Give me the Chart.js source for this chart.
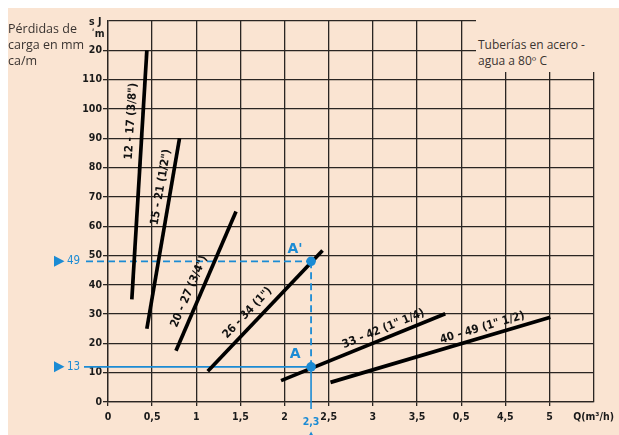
<!DOCTYPE html>
<html>
<head>
<meta charset="utf-8">
<script src="https://cdn.jsdelivr.net/npm/chart.js@4.4.1/dist/chart.umd.min.js"></script>
<style>
  html, body { margin: 0; padding: 0; background: #fff; }
  #wrap { position: relative; width: 619px; height: 435px; overflow: hidden; }
  #panel { position: absolute; left: 8px; top: 8px; right: 0; bottom: 0; background: #fae4d2; }
  #chart { position: absolute; left: 0; top: 0; }
  .note { position: absolute; font-family: "Open Sans", sans-serif; font-size: 12.5px; line-height: 16px; color: #3a3431; white-space: nowrap; }
  #yTitle { left: 8px; top: 21px; }
  #legendNote { left: 476px; top: 20px; width: 126px; height: 52px; padding: 17px 0 0 2px; box-sizing: border-box; background: #fae4d2; font-size: 12px; }
</style>
</head>
<body>
<div id="wrap">
  <div id="panel"></div>
  <canvas id="chart" width="619" height="435"></canvas>
  <div class="note" id="yTitle">Pérdidas de<br>carga en mm<br>ca/m</div>
  <div class="note" id="legendNote">Tuberías en acero -<br>agua a 80º C</div>
</div>
<script>
// ---- data ----
const flowTicks = [0, 0.5, 1, 1.5, 2, 2.5, 3, 3.5, 4, 4.5, 5, 5.5];
const flowTickLabels = ['0', '0,5', '1', '1,5', '2', '2,5', '3', '3,5', '0,5', '4,5', '5', 'Q(m³/h)'];
const lossTicks = [0, 10, 20, 30, 40, 50, 60, 70, 80, 90, 100, 110, 120, 130];
const lossTickLabels = ['0', '10', '20', '30', '40', '50', '60', '70', '80', '90', '100', '110', '20', ''];
const lossUnitLines = ['s J', 'ʹm'];

const pipeNames = ['12 - 17 (3/8")', '15 - 21 (1/2")', '20 - 27 (3/4")', '26 - 34 (1")', '33 - 42 (1" 1/4)', '40 - 49 (1" 1/2)'];
const pipeFlowStart = [0.27, 0.44, 0.77, 1.13, 1.96, 2.52];
const pipeLossStart = [35, 25, 17.5, 10.5, 7.3, 6.7];
const pipeFlowEnd = [0.44, 0.81, 1.45, 2.43, 3.82, 5.01];
const pipeLossEnd = [120, 90, 65, 51.7, 30.1, 28.9];
// where each pipe name sits (data units)
const nameFlow = [0.262, 0.60, 0.92, 1.58, 3.12, 4.24];
const nameLoss = [95.8, 73.3, 37.7, 30.4, 24.9, 25.3];

const markNames = ['A', "A'"];
const markFlow = [2.3, 2.3];
const markLoss = [12, 48];
const markLossLabels = ['13', '49'];
const markFlowLabel = '2,3';

const BLUE = '#1b8bd4';
const GRID = '#2a2522';
const tickFont = { family: '"DejaVu Sans Condensed", "DejaVu Sans", sans-serif', size: 10.5, weight: 'bold' };

// ---- plugins ----
const guides = {
  id: 'guides',
  beforeDatasetsDraw(chart) {
    const { ctx, scales: { x, y } } = chart;
    const ax = x.getPixelForValue(markFlow[0]);
    const yA = y.getPixelForValue(markLoss[0]);
    const yB = y.getPixelForValue(markLoss[1]);
    const seg = (x1, y1, x2, y2) => { ctx.beginPath(); ctx.moveTo(x1, y1); ctx.lineTo(x2, y2); ctx.stroke(); };
    ctx.save();
    ctx.strokeStyle = BLUE;
    ctx.lineWidth = 1.8;
    ctx.setLineDash([7, 4]);
    seg(x.left - 22, yB, ax, yB);
    seg(ax, yB, ax, yA);
    ctx.setLineDash([]);
    ctx.lineWidth = 1.6;
    seg(x.left - 24, yA, ax, yA);
    seg(ax, yA, ax, y.bottom + 7);
    ctx.restore();
  },
  afterDatasetsDraw(chart) {
    const { ctx, scales: { x, y } } = chart;
    const ax = x.getPixelForValue(markFlow[0]);
    ctx.save();
    ctx.fillStyle = BLUE;
    // left markers  ▶ 13 / ▶ 49
    markLoss.forEach((v, i) => {
      const py = y.getPixelForValue(v);
      ctx.beginPath();
      ctx.moveTo(x.left - 54, py - 5.5);
      ctx.lineTo(x.left - 43.5, py);
      ctx.lineTo(x.left - 54, py + 5.5);
      ctx.closePath();
      ctx.fill();
      ctx.font = '11.5px "DejaVu Sans Condensed", sans-serif';
      ctx.textAlign = 'left';
      ctx.textBaseline = 'middle';
      ctx.fillText(markLossLabels[i], x.left - 41, py);
      // point names
      ctx.font = 'bold 14px "DejaVu Sans", sans-serif';
      ctx.textAlign = 'center';
      ctx.fillText(markNames[i], ax - 16, py - 12);
    });
    // bottom marker
    ctx.font = 'bold 10.5px "DejaVu Sans Condensed", sans-serif';
    ctx.textAlign = 'center';
    ctx.textBaseline = 'middle';
    ctx.fillText(markFlowLabel, ax, y.bottom + 20);
    ctx.beginPath();
    ctx.moveTo(ax, y.bottom + 29.5);
    ctx.lineTo(ax + 4, y.bottom + 37);
    ctx.lineTo(ax - 4, y.bottom + 37);
    ctx.closePath();
    ctx.fill();

    // pipe names along their lines
    ctx.fillStyle = '#111';
    ctx.font = 'bold 11.5px "DejaVu Sans Condensed", sans-serif';
    pipeNames.forEach((name, i) => {
      const dx = x.getPixelForValue(pipeFlowEnd[i]) - x.getPixelForValue(pipeFlowStart[i]);
      const dy = y.getPixelForValue(pipeLossEnd[i]) - y.getPixelForValue(pipeLossStart[i]);
      ctx.save();
      ctx.translate(x.getPixelForValue(nameFlow[i]), y.getPixelForValue(nameLoss[i]));
      ctx.rotate(Math.atan2(dy, dx));
      ctx.fillText(name, 0, 0);
      ctx.restore();
    });

    // unit label above the y axis
    ctx.fillStyle = '#1a1a1a';
    ctx.font = 'bold 10.5px "DejaVu Sans Condensed", sans-serif';
    ctx.textAlign = 'right';
    ctx.fillText(lossUnitLines[0], x.left - 6.5, y.top + 1.5);
    ctx.fillText(lossUnitLines[1], x.left - 3.5, y.top + 13);
    ctx.restore();
  }
};

// ---- datasets ----
const datasets = [{
  label: 'marks',
  data: markFlow.map((f, i) => ({ x: f, y: markLoss[i] })),
  pointRadius: 4.8,
  pointBackgroundColor: BLUE,
  pointBorderWidth: 0,
  showLine: false
}];
pipeNames.forEach((name, i) => {
  datasets.push({
    label: name,
    data: [{ x: pipeFlowStart[i], y: pipeLossStart[i] }, { x: pipeFlowEnd[i], y: pipeLossEnd[i] }],
    showLine: true,
    borderColor: '#000',
    borderWidth: 3.7,
    borderCapStyle: 'butt',
    pointRadius: 0
  });
});

const noLastTick = (ctx, max) => (ctx.tick && ctx.tick.value === max) ? 'rgba(0,0,0,0)' : GRID;

new Chart(document.getElementById('chart'), {
  type: 'scatter',
  data: { datasets },
  options: {
    responsive: false,
    devicePixelRatio: 1,
    animation: false,
    layout: { padding: { top: 21, right: 23, left: 0, bottom: 0 } },
    plugins: { legend: { display: false }, tooltip: { enabled: false } },
    scales: {
      x: {
        type: 'linear', min: 0, max: 5.5,
        afterBuildTicks: s => { s.ticks = flowTicks.map(v => ({ value: v })); },
        afterFit: s => { s.height = 33; },
        ticks: {
          autoSkip: false, maxRotation: 0, padding: 5,
          color: '#1a1a1a', font: tickFont,
          callback: (v, i) => flowTickLabels[i]
        },
        grid: { color: GRID, lineWidth: 1.3, tickLength: 4, tickColor: c => noLastTick(c, 5.5) },
        border: { color: GRID, width: 1.3 }
      },
      y: {
        type: 'linear', min: 0, max: 130,
        afterBuildTicks: s => { s.ticks = lossTicks.map(v => ({ value: v })); },
        afterFit: s => { s.width = 108; },
        ticks: {
          autoSkip: false, padding: 1,
          color: '#1a1a1a', font: tickFont,
          callback: (v, i) => lossTickLabels[i]
        },
        grid: { color: GRID, lineWidth: 1.3, tickLength: 5, tickColor: c => noLastTick(c, 130) },
        border: { color: GRID, width: 1.3 }
      }
    }
  },
  plugins: [guides]
});
</script>
</body>
</html>
